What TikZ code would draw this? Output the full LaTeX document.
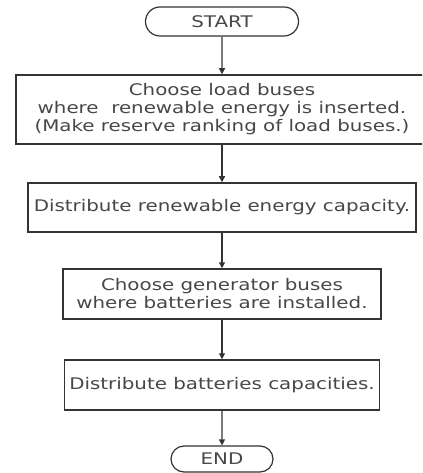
\documentclass[tikz,border=0pt]{standalone}
\usepackage{fontspec}
\setmainfont{DejaVu Sans}[FakeStretch=1.24]
\usetikzlibrary{arrows.meta,shapes.misc}
\begin{document}
\begin{tikzpicture}[x=1bp,y=-1bp,
  every node/.style={inner sep=0pt, text=black!72,
    font=\fontsize{16bp}{18bp}\selectfont},
  procbox/.style={draw=black!80, line width=1.5bp, rectangle, align=center},
  terminal/.style={draw=black!80, line width=1.2bp, rounded rectangle},
  flow/.style={draw=black!80, line width=1.2bp, -{Triangle[length=6bp,width=6bp]}}]
  \useasboundingbox (0,0) rectangle (422,473);
  \clip (0,0) rectangle (422,473);

  \node[terminal, minimum width=153bp, minimum height=29bp] (start) at (222,21.5) {START};
  \node[procbox, minimum width=412bp, minimum height=69bp] (choose) at (222,109.5)
    {Choose load buses\\where\ \ renewable energy is inserted.\\(Make reserve ranking of load buses.)};
  \node[procbox, minimum width=388bp, minimum height=49bp] (distre) at (222,207.5)
    {Distribute renewable energy capacity.};
  \node[procbox, minimum width=318bp, minimum height=50bp] (gen) at (222,294)
    {Choose generator buses\\where batteries are installed.};
  \node[procbox, minimum width=315bp, minimum height=50bp] (distbat) at (222,385)
    {Distribute batteries capacities.};
  \node[terminal, minimum width=102bp, minimum height=26bp] (finish) at (222,459) {END};

  \draw[flow] (start) -- (choose);
  \draw[flow] (choose) -- (distre);
  \draw[flow] (distre) -- (gen);
  \draw[flow] (gen) -- (distbat);
  \draw[flow] (distbat) -- (finish);
\end{tikzpicture}
\end{document}
